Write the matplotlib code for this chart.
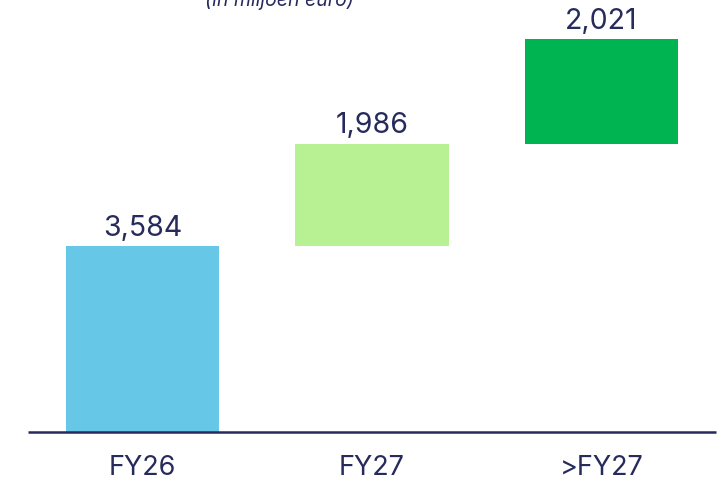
import matplotlib
matplotlib.use("Agg")
import matplotlib.pyplot as plt

plt.rcParams['font.family'] = ['Inter', 'DejaVu Sans']

categories = ['FY26', 'FY27', '>FY27']
values = [3584, 1986, 2021]
labels = ['3,584', '1,986', '2,021']
colors = ['#66c8e6', '#b8f094', '#00b451']
navy = '#262b5c'

bottoms = [0]
for v in values[:-1]:
    bottoms.append(bottoms[-1] + v)

fig = plt.figure(figsize=(7.28, 4.84), dpi=100)
ax = fig.add_axes([0, 0, 1, 1])
x = list(range(len(categories)))
ax.bar(x, values, bottom=bottoms, width=0.667, color=colors)

for i in x:
    ax.annotate(labels[i], (i, bottoms[i] + values[i]), xytext=(0, 3),
                textcoords='offset points', ha='center', va='bottom',
                fontsize=20.5, color=navy)
    ax.text(i, -696, categories[i], ha='center', va='center', fontsize=19.5, color=navy)

ax.plot([-0.5, 2.5], [0, 0], color=navy, lw=1.8, solid_capstyle='butt')

ax.set_xlim(-0.621, 2.551)
ax.set_ylim(-1006, 8345)
ax.axis('off')

fig.text(279 / 728, 1 - 6 / 484, '(in miljoen euro)', ha='center', va='baseline',
         fontsize=14, style='italic', color=navy)

fig.savefig('out.png', dpi=100)
